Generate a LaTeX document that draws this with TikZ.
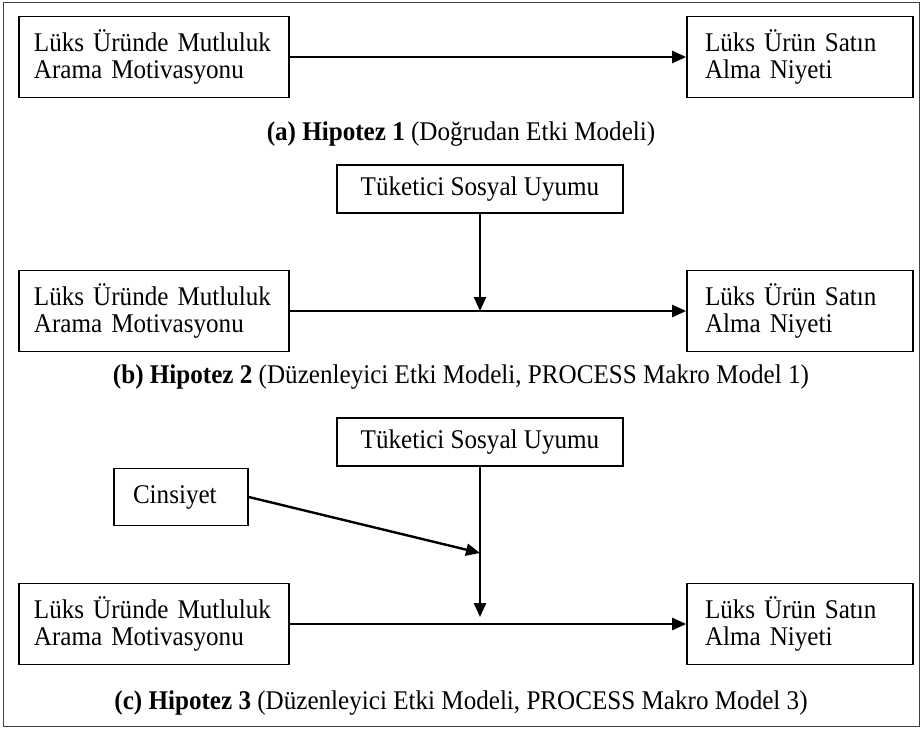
\documentclass[tikz,border=0pt]{standalone}
\usepackage{fontspec}
\setmainfont[FakeStretch=0.93]{Liberation Serif}
\usetikzlibrary{arrows.meta}

\tikzset{
  kutu/.style={draw, line width=1.6pt, minimum height=81pt, font=\fontsize{27}{27}\selectfont},
  solkutu/.style={kutu, text width=240pt, inner xsep=15pt, align=left},
  sagkutu/.style={kutu, text width=190pt, inner xsep=18pt, align=left},
  ustkutu/.style={kutu, minimum width=286pt, minimum height=48pt},
  ok/.style={-{Triangle[length=14pt,width=12pt]}, line width=2.4pt},
  baslik/.style={font=\fontsize{27}{27}\selectfont}
}

\begin{document}
\begin{tikzpicture}[x=1pt, y=-1pt]
    \useasboundingbox (0,0) rectangle (922,729);
    \draw[line width=0.6pt, black!75] (3,2) rectangle (919,726);

    % (a) Hipotez 1
    \node[solkutu] (mot1) at (154,57) {Lüks Üründe Mutluluk\\Arama Motivasyonu};
    \node[sagkutu] (niy1) at (800,57) {Lüks Ürün Satın\\Alma Niyeti};
    \draw[ok] (mot1) -- (niy1);
    \node[baslik] (cap1) at (461,134) {\textbf{(a) Hipotez 1} (Doğrudan Etki Modeli)};

    % (b) Hipotez 2
    \node[ustkutu] (tsu2) at (480,189) {Tüketici Sosyal Uyumu};
    \node[solkutu] (mot2) at (154,311) {Lüks Üründe Mutluluk\\Arama Motivasyonu};
    \node[sagkutu] (niy2) at (800,311) {Lüks Ürün Satın\\Alma Niyeti};
    \coordinate (m2) at (480,311);
    \draw[ok] (mot2) -- (niy2);
    \draw[ok] (tsu2.south) -- (m2);
    \node[baslik] (cap2) at (461,377) {\textbf{(b) Hipotez 2} (Düzenleyici Etki Modeli, PROCESS Makro Model 1)};

    % (c) Hipotez 3
    \node[ustkutu] (tsu3) at (480,442) {Tüketici Sosyal Uyumu};
    \node[kutu, text width=96pt, inner xsep=19pt, minimum height=57pt, align=left] (cins) at (181,497) {Cinsiyet};
    \node[solkutu] (mot3) at (154,624) {Lüks Üründe Mutluluk\\Arama Motivasyonu};
    \node[sagkutu] (niy3) at (800,624) {Lüks Ürün Satın\\Alma Niyeti};
    \coordinate (m3) at (480,617);
    \coordinate (k3) at (480,553);
    \draw[ok] (mot3) -- (niy3);
    \draw[ok] (tsu3.south) -- (m3);
    \draw[ok] (cins.east) -- (k3);
    \node[baslik] (cap3) at (461,703) {\textbf{(c) Hipotez 3} (Düzenleyici Etki Modeli, PROCESS Makro Model 3)};
\end{tikzpicture}
\end{document}
